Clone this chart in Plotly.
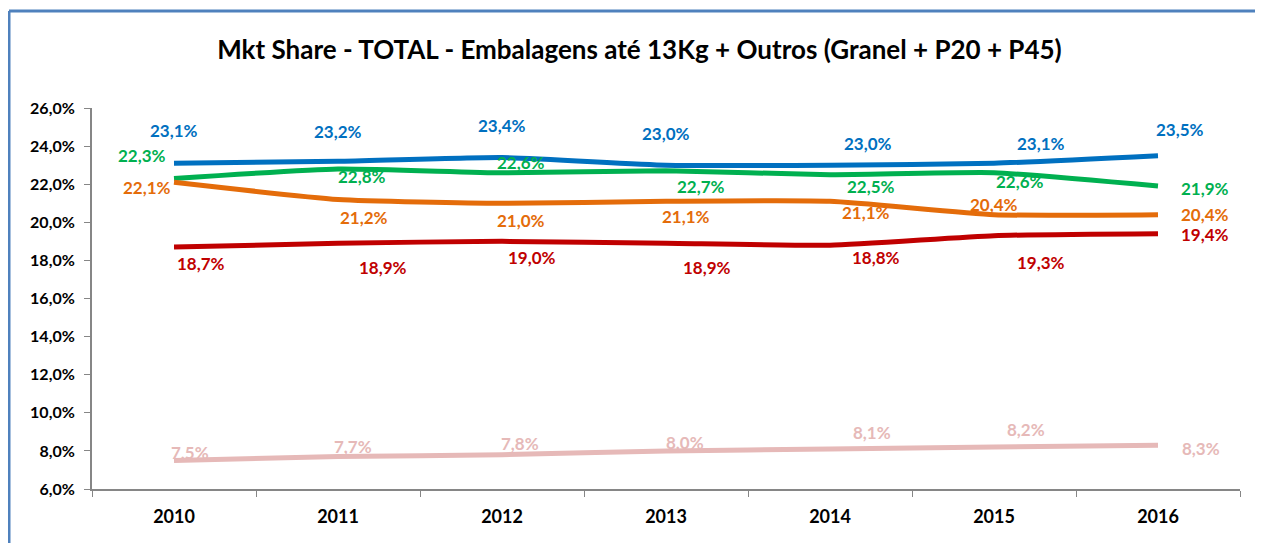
import plotly.graph_objects as go

years = ["2010", "2011", "2012", "2013", "2014", "2015", "2016"]
blue = [23.1, 23.2, 23.4, 23.0, 23.0, 23.1, 23.5]
green = [22.3, 22.8, 22.6, 22.7, 22.5, 22.6, 21.9]
orange = [22.1, 21.2, 21.0, 21.1, 21.1, 20.4, 20.4]
red = [18.7, 18.9, 19.0, 18.9, 18.8, 19.3, 19.4]
pink = [7.5, 7.7, 7.8, 8.0, 8.1, 8.2, 8.3]
y_ticks = [6, 8, 10, 12, 14, 16, 18, 20, 22, 24, 26]

series = [
    (blue, "#0070C0",
     [(0, 33), (0, 30), (0, 32), (0, 32), (38, 22), (47, 20), (22, 26)]),
    (green, "#00B050",
     [(-32, 23), (24, -8), (19, 10), (35, -16), (41, -12), (26, -9), (47, -2)]),
    (orange, "#E46C0A",
     [(-27, -5), (26, -18), (19, -17), (20, -15), (36, -11), (0, 10), (47, 0)]),
    (red, "#C00000",
     [(27, -16), (45, -24), (30, -16), (41, -24), (46, -12), (47, -27), (47, -1)]),
    (pink, "#E6B9B8",
     [(16, 8), (15, 10), (18, 11), (19, 8), (42, 17), (32, 18), (43, -3)]),
]

FONT = "Lato"
fig = go.Figure()
annotations = []
for vals, color, offs in series:
    fig.add_trace(go.Scatter(x=years, y=vals, mode="lines",
                             line=dict(color=color, width=5, shape="spline", smoothing=0.5),
                             showlegend=False, hoverinfo="skip"))
    for i, (yv, (dx, dy)) in enumerate(zip(vals, offs)):
        annotations.append(dict(
            x=i, y=yv, xref="x", yref="y",
            text=f"{yv:.1f}%".replace(".", ","),
            showarrow=False, xshift=dx, yshift=dy,
            font=dict(family=FONT, size=17, color=color, weight="bold")))

fig.update_layout(
    width=1263, height=543,
    margin=dict(l=84, r=31, t=100, b=62),
    paper_bgcolor="white", plot_bgcolor="white",
    title=dict(text="Mkt Share - TOTAL - Embalagens até 13Kg + Outros (Granel + P20 + P45)",
               x=0.5, xanchor="center", xref="container", y=0.9227, yanchor="middle",
               font=dict(family=FONT, size=26, color="black", weight="bold")),
    xaxis=dict(type="category", tickson="boundaries", ticks="outside", ticklen=6,
               tickcolor="#868686", showline=True, linecolor="#868686", linewidth=2,
               showgrid=False, range=[-0.5, 6.5], ticklabelstandoff=10,
               tickfont=dict(family=FONT, size=18, color="black", weight="bold")),
    yaxis=dict(range=[6, 26], tickvals=y_ticks,
               ticktext=[f"{v:.1f}%".replace(".", ",") for v in y_ticks],
               ticks="outside", ticklen=6, tickcolor="#868686",
               showline=True, linecolor="#868686", linewidth=2,
               showgrid=False, zeroline=False, ticklabelstandoff=6,
               tickfont=dict(family=FONT, size=16, color="black", weight="bold")),
    annotations=annotations,
    shapes=[
        dict(type="line", xref="paper", yref="paper", x0=-0.0723, x1=1.0192,
             y0=1.2546, y1=1.2546, line=dict(color="#4F81BD", width=3)),
        dict(type="line", xref="paper", yref="paper", x0=-0.0723, x1=-0.0723,
             y0=1.2546, y1=-0.2, line=dict(color="#4F81BD", width=3)),
    ],
)
fig.write_html("out.html")
